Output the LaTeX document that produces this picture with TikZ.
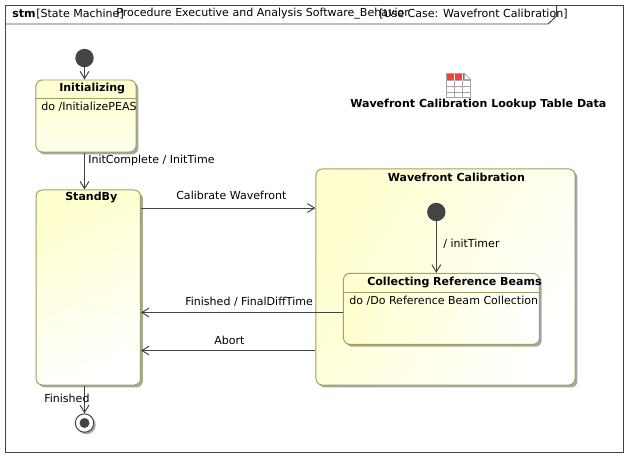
\documentclass[tikz,border=0pt]{standalone}
\usepackage{fontspec}
\setmainfont{DejaVu Sans}
\usetikzlibrary{arrows.meta, shadows}
\definecolor{linegray}{HTML}{444444}
\definecolor{stateedge}{HTML}{A0A060}
\definecolor{stateyellow}{HTML}{FFFFCE}
\definecolor{tablered}{HTML}{F44336}
\tikzset{
	statebox/.style={draw=stateedge, line width=0.7pt, rounded corners=0.16cm, top color=stateyellow, bottom color=white, drop shadow={shadow xshift=0.06cm, shadow yshift=-0.06cm, fill=black!35, opacity=1}},
	startdot/.style={circle, fill=linegray, minimum size=0.46cm, inner sep=0pt},
	enddot/.style={circle, draw=linegray, fill=white, line width=0.7pt, minimum size=0.46cm, inner sep=0pt, drop shadow={shadow xshift=0.05cm, shadow yshift=-0.05cm, fill=black!35, opacity=1}},
	trans/.style={draw=linegray, line width=0.7pt, -{Straight Barb[length=0.18cm,width=0.22cm]}},
	txt/.style={font=\fontsize{7.85}{9}\selectfont, inner sep=0pt, anchor=west, text=black},
	ttl/.style={txt, font=\fontsize{7.85}{9}\selectfont\bfseries}
}
\begin{document}
\begin{tikzpicture}[x=0.025cm, y=-0.025cm]
	\useasboundingbox (0,0) rectangle (628,456);
	% frame
	\draw[linegray, line width=0.7pt] (5.5,5.5) rectangle (623.5,452);
	\draw[linegray, line width=0.7pt] (5.5,24) -- (548,24) -- (556.5,16) -- (556.5,5.5);
	\node[ttl] (stmkind) at (12,14) {stm};
	\node[txt] (stmtype) at (36,14) {[State Machine]};
	\node[txt] (stmname) at (116,14) {Procedure Executive and Analysis Software\_Behavior};
	\node[txt] (stmcase) at (379,14) {[Use Case: Wavefront Calibration]};
	% states
	\node[statebox, shading angle=60, bottom color=stateyellow!35, minimum width=2.5cm, minimum height=1.8cm] (initializing) at (86,116) {};
	\node[statebox, shading angle=25, minimum width=2.61cm, minimum height=4.875cm] (standby) at (88.25,287.5) {};
	\node[statebox, shading angle=60, minimum width=6.475cm, minimum height=5.4cm] (wavefront) at (445.5,277) {};
	\node[statebox, shading angle=85, minimum width=4.895cm, minimum height=1.775cm] (collecting) at (441.4,308.8) {};
	\draw[stateedge, line width=0.7pt] (initializing.west |- 0,98.5) -- (initializing.east |- 0,98.5);
	\draw[stateedge, line width=0.7pt] (collecting.west |- 0,292.5) -- (collecting.east |- 0,292.5);
	\node[startdot] (start) at (84.5,58) {};
	\node[startdot] (wavestart) at (436.3,212) {};
	\node[enddot] (finish) at (84.5,423) {};
	\fill[linegray] (finish) circle (5);
	% state texts
	\node[ttl] (initializingname) at (59,88) {Initializing};
	\node[txt] (initializingdo) at (41,107) {do /InitializePEAS};
	\node[ttl] (standbyname) at (65,197.5) {StandBy};
	\node[ttl] (wavefrontname) at (387.5,177) {Wavefront Calibration};
	\node[ttl] (collectingname) at (367,282) {Collecting Reference Beams};
	\node[txt] (collectingdo) at (349,301) {do /Do Reference Beam Collection};
	% transitions
	\draw[trans] (start) -- (start |- initializing.north);
	\draw[trans] (start |- initializing.south) -- (start |- standby.north);
	\draw[trans] (standby.east |- 0,208) -- (wavefront.west |- 0,208);
	\draw[trans] (wavestart) -- (wavestart |- collecting.north);
	\draw[trans] (collecting.west |- 0,312.5) -- (standby.east |- 0,312.5);
	\draw[trans] (wavefront.west |- 0,350.5) -- (standby.east |- 0,350.5);
	\draw[trans] (finish |- standby.south) -- (finish);
	\node[txt] (initlabel) at (88,160) {InitComplete / InitTime};
	\node[txt] (calibratelabel) at (176,195) {Calibrate Wavefront};
	\node[txt] (timerlabel) at (443,244) {/ initTimer};
	\node[txt] (difflabel) at (185,302) {Finished / FinalDiffTime};
	\node[txt] (abortlabel) at (214,340.5) {Abort};
	\node[txt] (finishlabel) at (44,398) {Finished};
	% lookup table icon
	\fill[white] (446.5,73.5) rectangle (470.5,97.5);
	\fill[tablered] (446.5,73.5) rectangle (454.5,80.5) (454.5,73.5) rectangle (462.5,80.5) (462.5,73.5) -- (465,73.5) -- (470.5,79.5) -- (470.5,80.5) -- (462.5,80.5) -- cycle;
	\draw[black!35, line width=0.6pt] (446.5,73.5) -- (464.5,73.5) -- (470.5,79.5) -- (470.5,97.5) -- (446.5,97.5) -- cycle;
	\draw[black!35, line width=0.6pt] (446.5,80.5) -- (470.5,80.5) (446.5,86.5) -- (470.5,86.5) (446.5,92) -- (470.5,92) (454.5,80.5) -- (454.5,97.5) (462.5,80.5) -- (462.5,97.5);
	\draw[white, line width=0.6pt] (454.5,73.5) -- (454.5,80.5) (462.5,73.5) -- (462.5,80.5);
	\fill[white, draw=black!35, line width=0.4pt] (464.5,73.5) -- (470.5,79.5) -- (464.5,79.5) -- cycle;
	\node[ttl] (tablelabel) at (350,104.5) {Wavefront Calibration Lookup Table Data};
\end{tikzpicture}
\end{document}
